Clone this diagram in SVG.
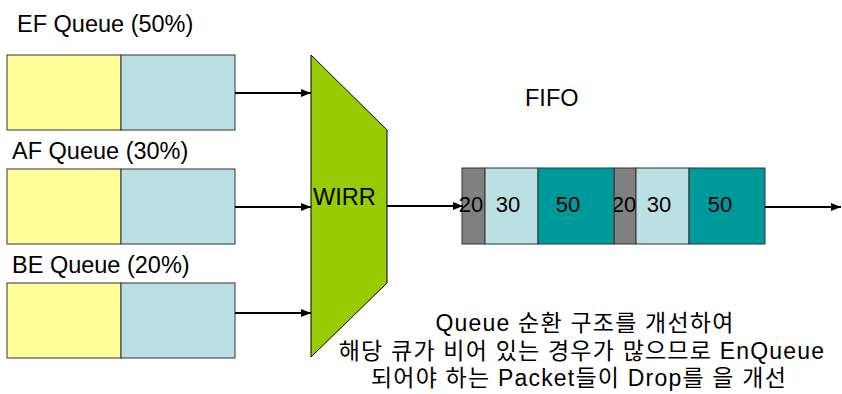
<svg xmlns="http://www.w3.org/2000/svg" width="842" height="394" viewBox="0 0 842 394">
  <defs>
    <marker id="arrow" viewBox="0 0 10 8" refX="10" refY="4" markerWidth="10" markerHeight="8" markerUnits="userSpaceOnUse" orient="auto">
      <path d="M0,0 L10,4 L0,8 Z" fill="#000"/>
    </marker>
    <style>
      .lbl { font-family: "Liberation Sans", Arial, sans-serif; font-size: 23.5px; fill: #000; }
      .num { font-family: "Liberation Sans", Arial, sans-serif; font-size: 22px; fill: #000; text-anchor: middle; }
      .note { font-family: "Liberation Sans", "Noto Sans CJK KR", sans-serif; font-size: 23px; letter-spacing: 1.2px; fill: #000; text-anchor: middle; }
      .cell { stroke: #333; stroke-width: 1; }
      .yel { fill: #ffff99; }
      .lb { fill: #bbe0e3; }
      .gray { fill: #808080; }
      .teal { fill: #009999; }
      .conn { stroke: #000; stroke-width: 2; fill: none; marker-end: url(#arrow); }
    </style>
  </defs>

  <!-- input queues -->
  <g id="ef-queue">
    <text class="lbl" x="17" y="32">EF Queue (50%)</text>
    <rect class="cell yel" x="7" y="55" width="114" height="75"/>
    <rect class="cell lb" x="121" y="55" width="114" height="75"/>
  </g>
  <g id="af-queue">
    <text class="lbl" x="12" y="159">AF Queue (30%)</text>
    <rect class="cell yel" x="7" y="169" width="114" height="75"/>
    <rect class="cell lb" x="121" y="169" width="114" height="75"/>
  </g>
  <g id="be-queue">
    <text class="lbl" x="12" y="273">BE Queue (20%)</text>
    <rect class="cell yel" x="7" y="283" width="114" height="75"/>
    <rect class="cell lb" x="121" y="283" width="114" height="75"/>
  </g>

  <!-- scheduler -->
  <g id="wirr">
    <polygon points="311,55 387,130 387,283 311,357" fill="#99cc00" stroke="#000" stroke-width="1"/>
    <text class="lbl" x="313" y="205">WIRR</text>
  </g>

  <!-- output FIFO; the second 20-cell sits under the 50-cell on its left -->
  <g id="fifo">
    <text class="lbl" x="525" y="106">FIFO</text>
    <rect class="cell gray" x="614" y="168" width="22" height="76"/>
    <text class="num" x="624" y="212">20</text>
    <rect class="cell gray" x="462" y="168" width="23" height="76"/>
    <text class="num" x="471" y="212">20</text>
    <rect class="cell lb" x="485" y="168" width="53" height="76"/>
    <text class="num" x="508" y="212">30</text>
    <rect class="cell teal" x="538" y="168" width="76" height="76"/>
    <text class="num" x="568" y="212">50</text>
    <rect class="cell lb" x="636" y="168" width="53" height="76"/>
    <text class="num" x="659" y="212">30</text>
    <rect class="cell teal" x="689" y="168" width="76" height="76"/>
    <text class="num" x="720" y="212">50</text>
  </g>

  <!-- connectors -->
  <g id="connectors">
    <line class="conn" x1="235" y1="93" x2="311" y2="93"/>
    <line class="conn" x1="235" y1="207" x2="311" y2="207"/>
    <line class="conn" x1="235" y1="313" x2="311" y2="313"/>
    <line class="conn" x1="387" y1="206" x2="463" y2="206"/>
    <line class="conn" x1="765" y1="207" x2="841" y2="207"/>
  </g>

  <!-- note -->
  <g id="note">
    <text class="note" x="585" y="331">Queue 순환 구조를 개선하여</text>
    <text class="note" x="582" y="359">해당 큐가 비어 있는 경우가 많으므로 EnQueue</text>
    <text class="note" x="579" y="386">되어야 하는 Packet들이 Drop를 을 개선</text>
  </g>
</svg>
